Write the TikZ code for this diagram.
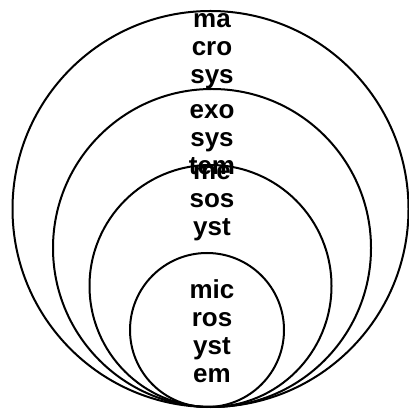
\documentclass[tikz,border=0pt]{standalone}
\usepackage{fontspec}
\setmainfont{Liberation Sans}
\begin{document}
\begin{tikzpicture}[x=1pt,y=1pt,
  ring/.style={draw=black, line width=2pt},
  lbl/.style={font=\bfseries\fontsize{26}{28.3}\selectfont, align=center, inner sep=0pt, anchor=north}]
\useasboundingbox (0,0) rectangle (409,409);
\fill[white] (0,0) rectangle (409,409);
\node[ring, circle, minimum size=396pt, inner sep=0pt] (macro) at (210.5,200) {};
\node[ring, circle, minimum size=318pt, inner sep=0pt] (exo) at (212,161) {};
\node[ring, circle, minimum size=242pt, inner sep=0pt] (meso) at (210.5,123) {};
\node[ring, circle, minimum size=154pt, inner sep=0pt] (micro) at (207,79) {};
\node[lbl] (tmacro) at (212,396) {ma\\cro\\sys};
\node[lbl] (texo) at (212,305) {exo\\sys\\tem};
\node[lbl] (tmeso) at (212,244) {me\\sos\\yst};
\node[lbl] (tmicro) at (212,130) {mic\\ros\\yst\\em};
\end{tikzpicture}
\end{document}
